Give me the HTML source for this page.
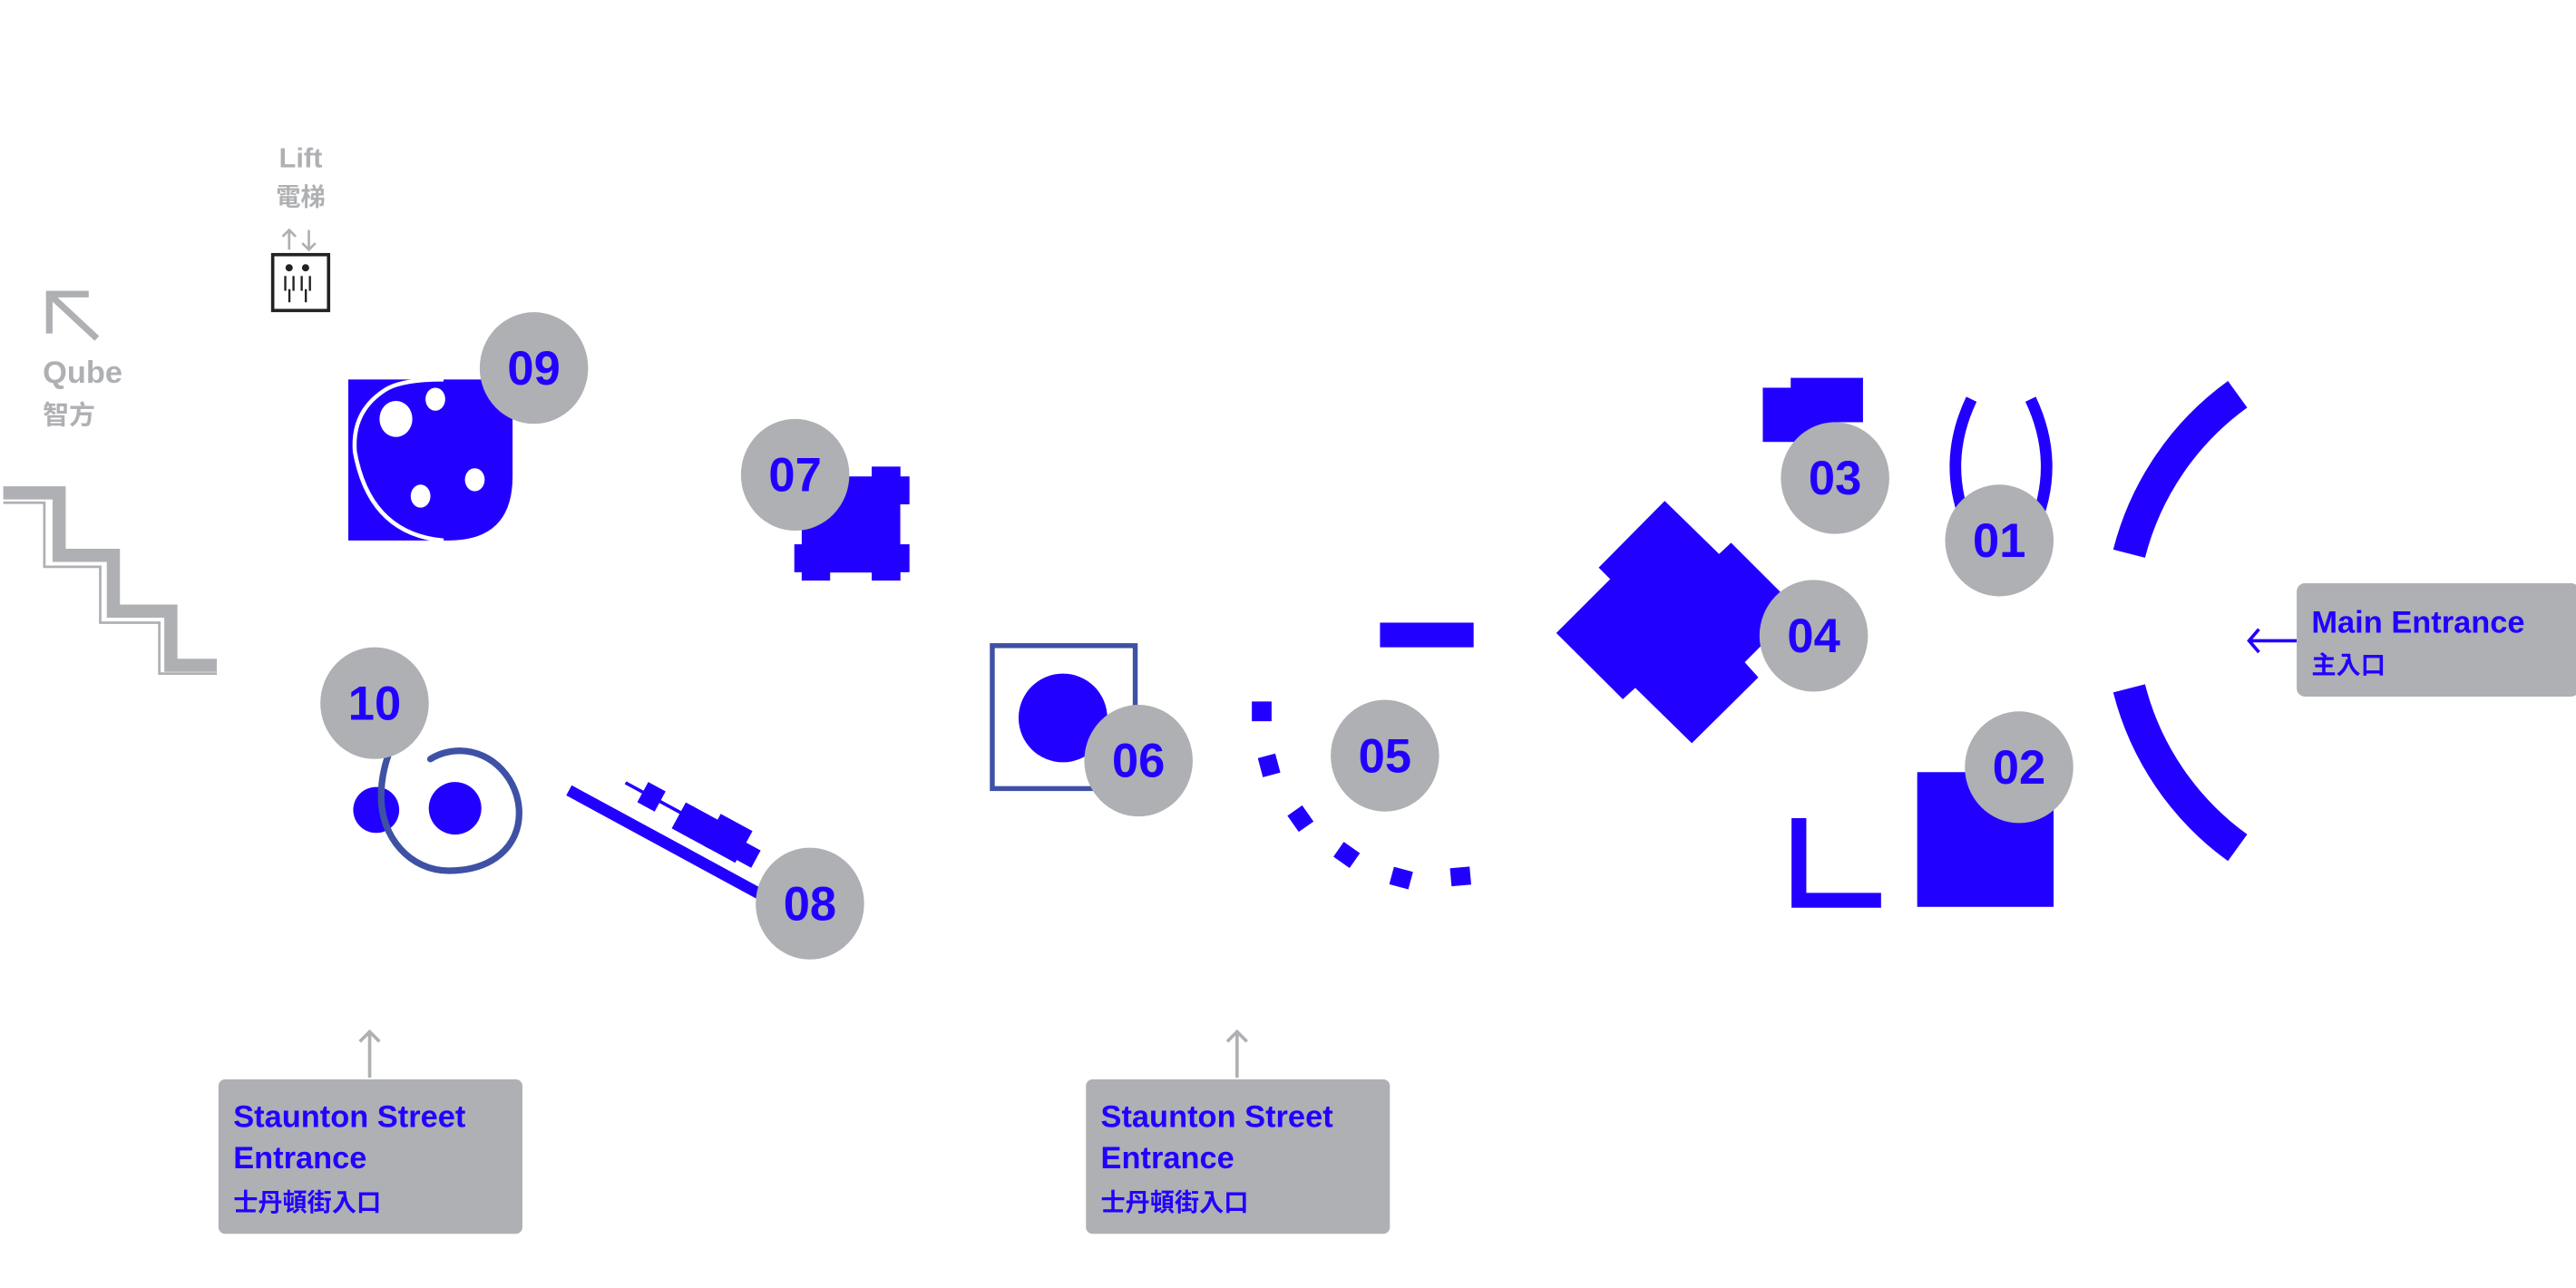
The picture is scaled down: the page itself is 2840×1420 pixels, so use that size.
<!DOCTYPE html>
<html><head><meta charset="utf-8"><style>
html,body{margin:0;padding:0;background:#fff;}
svg{display:block;}
text{font-family:"Liberation Sans","Noto Sans CJK TC",sans-serif;font-weight:bold;}
</style></head><body>
<svg width="2840" height="1420" viewBox="0 0 1568 784" xmlns="http://www.w3.org/2000/svg">
<rect width="1568" height="784" fill="#fff"/>
<!-- Lift -->
<text x="183" y="102" font-size="17" fill="#aeb0b3" text-anchor="middle">Lift</text>
<text x="183" y="125" font-size="15" fill="#aeb0b3" text-anchor="middle">電梯</text>
<g stroke="#aeb0b3" stroke-width="1.5" fill="none">
<path d="M176 152 V140 M172 144 L176 140 L180 144"/>
<path d="M188 140 V152 M184 148 L188 152 L192 148"/>
</g>
<rect x="166" y="155" width="34" height="34" fill="#fff" stroke="#222" stroke-width="2"/>
<g fill="#222"><circle cx="176" cy="163" r="2.2"/><circle cx="186" cy="163" r="2.2"/>
<rect x="173" y="168" width="1.3" height="9"/><rect x="178" y="168" width="1.3" height="9"/><rect x="183" y="168" width="1.3" height="9"/><rect x="188" y="168" width="1.3" height="9"/>
<rect x="175.5" y="176" width="1.3" height="8"/><rect x="185.5" y="176" width="1.3" height="8"/></g>
<!-- Qube -->
<path d="M30 203 V179 H54 M31 180 L59 206" stroke="#aeb0b3" stroke-width="4" fill="none"/>
<text x="26" y="233" font-size="19" fill="#aeb0b3">Qube</text>
<text x="26" y="258" font-size="16" fill="#aeb0b3">智方</text>
<!-- stairs -->
<path d="M2 300 H36 V338 H69 V372 H104 V405 H132" stroke="#aeb0b3" stroke-width="8" fill="none"/>
<path d="M2 306 H27 V345 H61 V379 H97 V410 H132" stroke="#aeb0b3" stroke-width="1.5" fill="none"/>
<!-- 09 -->
<path d="M212 231 H312 V290 Q312 329 273 329 H212 Z" fill="#2200ff"/>
<path d="M270 329 Q225 325 216 275 Q214 250 235 237 Q245 231 270 231" stroke="#fff" stroke-width="2.5" fill="none"/>
<g fill="#fff"><ellipse cx="241" cy="255" rx="10" ry="11"/><ellipse cx="265" cy="243" rx="6" ry="7"/><ellipse cx="289" cy="292" rx="6" ry="7"/><ellipse cx="256" cy="302" rx="6" ry="7"/></g>
<!-- 07 -->
<g fill="#2200ff">
<rect x="488" y="290" width="60" height="58.5"/>
<rect x="530.6" y="284" width="17.5" height="7"/>
<rect x="547" y="290" width="6.6" height="17"/>
<rect x="547" y="331.3" width="6.6" height="17"/>
<rect x="483.5" y="331.3" width="5.5" height="17"/>
<rect x="488" y="347" width="17.3" height="6.4"/>
<rect x="530.6" y="347" width="17.5" height="6.4"/>
</g>
<!-- 10 -->
<circle cx="229" cy="493" r="14" fill="#2200ff"/>
<path d="M262 462 Q270 457 280 457 C300 457 316 475 316 495 C316 515 300 530 273 530 C250 530 232 510 232 485 C232 472 235 463 238 455" stroke="#3f51a5" stroke-width="4" fill="none" stroke-linecap="round"/>
<circle cx="277" cy="492" r="16" fill="#2200ff"/>
<!-- 08 -->
<g transform="translate(348,478) rotate(28.5)" fill="#2200ff">
<rect x="0" y="0" width="132" height="7"/>
<rect x="28" y="-18" width="60" height="2"/>
<rect x="40" y="-24" width="12" height="14"/>
<rect x="66" y="-24" width="26" height="18"/>
<rect x="88" y="-28" width="22" height="22"/>
<rect x="104" y="-20" width="16" height="12"/>
</g>
<!-- 06 -->
<rect x="604" y="393" width="87" height="87" fill="none" stroke="#3f51a5" stroke-width="3"/>
<circle cx="647" cy="437" r="27" fill="#2200ff"/>
<!-- 05 -->
<rect x="840" y="379" width="57" height="15" fill="#2200ff"/>
<g fill="#2200ff">
<rect x="762" y="427" width="12" height="12"/>
<rect x="767" y="460" width="11" height="12" transform="rotate(-15 772 466)"/>
<rect x="786" y="492" width="11" height="12" transform="rotate(-35 792 498)"/>
<rect x="814" y="514" width="11" height="12" transform="rotate(-55 820 520)"/>
<rect x="847" y="528" width="11" height="12" transform="rotate(-75 853 534)"/>
<rect x="883" y="527" width="11" height="12" transform="rotate(-95 889 533)"/>
</g>
<!-- 04 -->
<polygon fill="#2200ff" points="1013.3,304.9 1046.4,337.2 1053.7,330.4 1094.2,370.8 1062,403.1 1070.3,412.3 1029.8,452.4 995.4,418.7 987.8,425.6 947.3,385.3 980.1,352.5 973.1,345.5"/>
<!-- 03 -->
<rect x="1073" y="236" width="42" height="33" fill="#2200ff"/>
<rect x="1090" y="230" width="44" height="27" fill="#2200ff"/>
<!-- 01 -->
<path d="M1200 243 Q1181 283 1199 323" stroke="#2200ff" stroke-width="7" fill="none"/>
<path d="M1236 243 Q1255 283 1237 323" stroke="#2200ff" stroke-width="7" fill="none"/>
<!-- 02 -->
<rect x="1167" y="470" width="83" height="82" fill="#2200ff"/>
<path d="M1095 498 V548 H1145" stroke="#2200ff" stroke-width="9" fill="none"/>
<!-- big arcs -->
<path d="M1296 337 A172 172 0 0 1 1362 240" stroke="#2200ff" stroke-width="20" fill="none"/>
<path d="M1296 419 A172 172 0 0 0 1362 516" stroke="#2200ff" stroke-width="20" fill="none"/>
<!-- circles -->
<g fill="#aeb0b3">
<ellipse cx="325" cy="224" rx="33" ry="34"/><ellipse cx="484" cy="289" rx="33" ry="34"/><ellipse cx="228" cy="428" rx="33" ry="34"/>
<ellipse cx="493" cy="550" rx="33" ry="34"/><ellipse cx="693" cy="463" rx="33" ry="34"/><ellipse cx="843" cy="460" rx="33" ry="34"/>
<ellipse cx="1117" cy="291" rx="33" ry="34"/><ellipse cx="1217" cy="329" rx="33" ry="34"/><ellipse cx="1104" cy="387" rx="33" ry="34"/>
<ellipse cx="1229" cy="467" rx="33" ry="34"/>
</g>
<g fill="#2200ff" font-size="29" text-anchor="middle">
<text x="325" y="234">09</text><text x="484" y="299">07</text><text x="228" y="438">10</text>
<text x="493" y="560">08</text><text x="693" y="473">06</text><text x="843" y="470">05</text>
<text x="1117" y="301">03</text><text x="1217" y="339">01</text><text x="1104" y="397">04</text>
<text x="1229" y="477">02</text>
</g>
<!-- Main entrance -->
<path d="M1398 390 H1369 M1375 383 L1369 390 L1375 397" stroke="#2200ff" stroke-width="2" fill="none"/>
<rect x="1398" y="355" width="172" height="69" rx="5" fill="#aeb0b3"/>
<text x="1407" y="385" font-size="19" fill="#2200ff">Main Entrance</text>
<text x="1407" y="410" font-size="15" fill="#2200ff">主入口</text>
<!-- Staunton entrances -->
<g stroke="#aeb0b3" stroke-width="2" fill="none">
<path d="M225 656 V628 M219 634 L225 628 L231 634"/>
<path d="M753 656 V628 M747 634 L753 628 L759 634"/>
</g>
<rect x="133" y="657" width="185" height="94" rx="4" fill="#aeb0b3"/>
<rect x="661" y="657" width="185" height="94" rx="4" fill="#aeb0b3"/>
<g fill="#2200ff">
<text x="142" y="686" font-size="19">Staunton Street</text>
<text x="142" y="711" font-size="19">Entrance</text>
<text x="142" y="737" font-size="15">士丹頓街入口</text>
<text x="670" y="686" font-size="19">Staunton Street</text>
<text x="670" y="711" font-size="19">Entrance</text>
<text x="670" y="737" font-size="15">士丹頓街入口</text>
</g>
</svg>
</body></html>
